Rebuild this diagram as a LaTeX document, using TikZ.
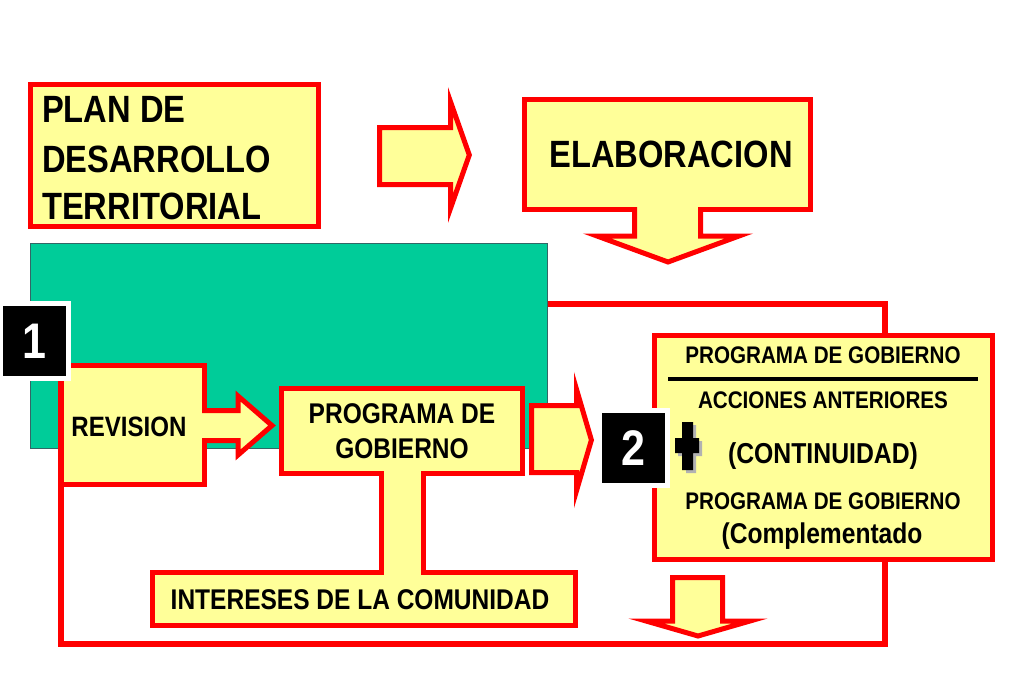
\documentclass[tikz,border=0pt]{standalone}
\usepackage{fontspec}
\setmainfont{Liberation Sans}[FakeStretch=0.86]

\definecolor{amarillo}{HTML}{FFFF99}
\definecolor{rojo}{HTML}{FF0000}
\definecolor{verde}{HTML}{00CC99}
\definecolor{bordeverde}{HTML}{336666}

\begin{document}
\begin{tikzpicture}[x=1pt,y=-1pt,
  caja/.style={draw=rojo,fill=amarillo,line width=5pt,inner sep=0pt},
  flecha/.style={draw=rojo,fill=amarillo,line width=5pt,line join=miter},
  numero/.style={draw=white,fill=black,line width=5pt,text=white,inner sep=0pt,
    minimum width=68pt,minimum height=75pt,font=\fontsize{50}{50}\selectfont\bfseries},
  lazo/.style={draw=rojo,line width=6pt},
  texto/.style={inner sep=0pt,anchor=base}]
\useasboundingbox (0,0) rectangle (1024,683);

\node[draw=bordeverde,fill=verde,line width=1pt,minimum width=517pt,minimum height=205pt] (fondo) at (288.5,345.5) {};

\draw[lazo] (fondo.east |- 0,303.5) -- (885,303.5) -- (885,644) -- (61,644) -- (61,365);

\node[caja,minimum width=288pt,minimum height=142pt] (plan) at (174.5,155.5) {};
\node[texto,anchor=base west,font=\fontsize{38}{38}\selectfont\bfseries] (plan1) at (42,122) {PLAN DE};
\node[texto,anchor=base west,font=\fontsize{38}{38}\selectfont\bfseries] (plan2) at (42,172) {DESARROLLO};
\node[texto,anchor=base west,font=\fontsize{38}{38}\selectfont\bfseries] (plan3) at (42,219) {TERRITORIAL};

\filldraw[flecha] (379.5,127.5) -- (450.5,127.5) -- (450.5,101.7) -- (469.3,155) -- (450.5,208.3) -- (450.5,184.5) -- (379.5,184.5) -- cycle;

\node[caja,minimum width=286pt,minimum height=110pt,font=\fontsize{38}{38}\selectfont\bfseries] (elab) at (667.5,154.5) {};
\node[font=\fontsize{38}{38}\selectfont\bfseries,inner sep=0pt] (elabt) at (671,154.5) {ELABORACION};
\filldraw[flecha] (634.5,207) -- (634.5,236) -- (597,236) -- (668,262) -- (739,236) -- (700.5,236) -- (700.5,207);

\node[caja,minimum width=143.5pt,minimum height=119pt] (rev) at (132.75,425) {};
\node[font=\fontsize{28}{28}\selectfont\bfseries,inner sep=0pt] (revt) at (129,427) {REVISION};
\filldraw[flecha] (202,410.5) -- (238,410.5) -- (238,396) -- (272,425.5) -- (238,455) -- (238,440.5) -- (202,440.5);

\node[caja,minimum width=241pt,minimum height=85pt,align=center,font=\fontsize{28.5}{35}\selectfont\bfseries] (prog) at (402,431) {PROGRAMA DE\\GOBIERNO};
\node[caja,minimum width=423pt,minimum height=53pt] (int) at (364,599) {};
\node[font=\fontsize{28.5}{28.5}\selectfont\bfseries,inner sep=0pt] (intt) at (360,600) {INTERESES DE LA COMUNIDAD};
\fill[amarillo] (381.5,471) rectangle (423,575);
\draw[rojo,line width=5pt] (381.5,471) -- (381.5,575) (423,471) -- (423,575);

\filldraw[flecha] (531.5,405.5) -- (576.5,405.5) -- (576.5,389.3) -- (591.4,440) -- (576.5,490.7) -- (576.5,472.5) -- (531.5,472.5) -- cycle;

\node[caja,minimum width=338pt,minimum height=224pt] (gob) at (823.5,447.5) {};
\node[texto,font=\fontsize{24}{24}\selectfont\bfseries] (gob1) at (823,363) {PROGRAMA DE GOBIERNO};
\draw[line width=4pt] (668,379) -- (978,379);
\node[texto,font=\fontsize{24}{24}\selectfont\bfseries] (gob2) at (823,408) {ACCIONES ANTERIORES};
\node[texto,font=\fontsize{28.8}{28.8}\selectfont\bfseries] (gob3) at (823,463) {(CONTINUIDAD)};
\node[texto,font=\fontsize{24}{24}\selectfont\bfseries] (gob4) at (823,509) {PROGRAMA DE GOBIERNO};
\node[texto,font=\fontsize{28.6}{28.6}\selectfont\bfseries] (gob5) at (822,543) {(Complementado};

\filldraw[flecha] (672.5,577.5) -- (722.5,577.5) -- (722.5,621) -- (750,621) -- (698,636) -- (646,621) -- (672.5,621) -- cycle;

\node[numero] (uno) at (34.5,341) {1};
\node[numero] (dos) at (633.5,448) {2};

% signo mas
\fill[gray!60] (686,425) rectangle (696,473) (678,441) rectangle (702,456);
\fill[black] (682,422) rectangle (693,470) (675,438) rectangle (699,453);
\end{tikzpicture}
\end{document}
